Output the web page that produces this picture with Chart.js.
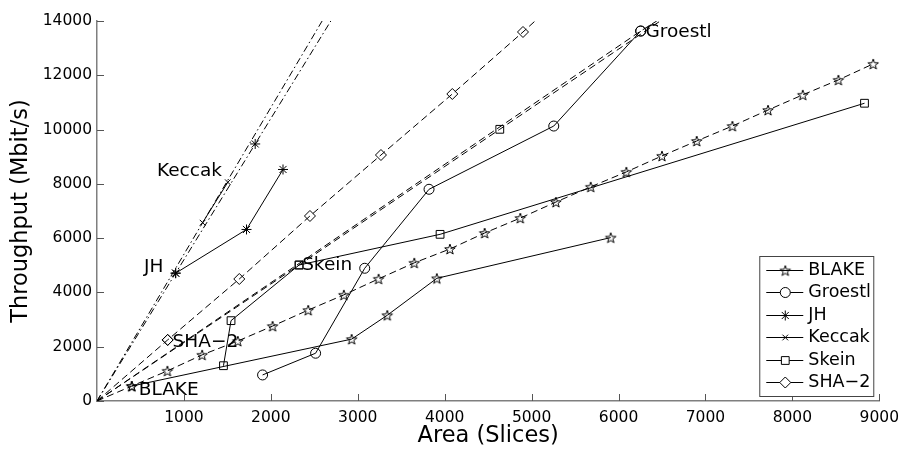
<!DOCTYPE html>
<html>
<head>
<meta charset="utf-8">
<script src="https://cdn.jsdelivr.net/npm/chart.js@4.4.1/dist/chart.umd.min.js"></script>
<style>
  html, body { margin: 0; padding: 0; background: #fff; }
</style>
</head>
<body>
<canvas id="hash" width="907" height="450"></canvas>
<script>
// measured implementations (area in slices, throughput in Mbit/s)
const blakeArea = [400, 2930, 3340, 3910, 5910];
const blakeTput = [550, 2280, 3160, 4520, 6020];
const groestlArea = [1905, 2515, 3080, 3820, 5255, 6255];
const groestlTput = [960, 1760, 4890, 7800, 10130, 13630];
const jhArea = [905, 1720, 2140];
const jhTput = [4710, 6320, 8530];
const keccakArea = [1215, 1505];
const keccakTput = [6570, 8060];
const skeinArea = [1455, 1542, 2325, 3947, 8830];
const skeinTput = [1300, 2960, 5010, 6140, 10970];
const sha2Area = [813];
const sha2Tput = [2250];

// scaling lines through the origin
const blakeScaleArea = [0, 400, 810, 1210, 1620, 2020, 2430, 2840, 3240, 3650, 4060, 4460, 4870, 5280, 5680, 6090, 6500, 6900, 7310, 7720, 8120, 8530, 8930];
const blakeScaleTput = [0, 550, 1110, 1700, 2210, 2760, 3350, 3910, 4500, 5090, 5600, 6190, 6740, 7330, 7890, 8440, 9030, 9580, 10130, 10720, 11280, 11830, 12420];
const groestlScaleArea = [0, 6255, 6440];
const groestlScaleTput = [0, 13630, 14000];
const jhScaleArea = [0, 905, 1820, 2690];
const jhScaleTput = [0, 4710, 9470, 14000];
const keccakScaleArea = [0, 2590];
const keccakScaleTput = [0, 14000];
const skeinScaleArea = [0, 2325, 4634, 6480];
const skeinScaleTput = [0, 5010, 10010, 14000];
const sha2ScaleArea = [0, 813, 1637, 2450, 3267, 4088, 4901, 5040];
const sha2ScaleTput = [0, 2250, 4495, 6816, 9063, 11311, 13595, 14000];

// text labels in the plot
const noteText = ['BLAKE', 'SHA\u22122', 'Skein', 'JH', 'Keccak', 'Groestl'];
const noteArea = [480, 870, 2360, 540, 690, 6310];
const noteTput = [400, 2180, 5010, 4940, 8470, 13600];

const xTicks = [0, 1000, 2000, 3000, 4000, 5000, 6000, 7000, 8000, 9000];
const yTicks = [0, 2000, 4000, 6000, 8000, 10000, 12000, 14000];

function pts(xs, ys) {
  return xs.map((x, i) => ({ x: x, y: ys[i] }));
}

function pentagram(r) {
  const c = document.createElement('canvas');
  const s = Math.ceil(r * 2 + 3);
  c.width = s; c.height = s;
  const g = c.getContext('2d');
  g.translate(s / 2, s / 2 + 0.6);
  g.beginPath();
  for (let i = 0; i < 10; i++) {
    const rr = i % 2 ? r * 0.4 : r;
    const a = -Math.PI / 2 + i * Math.PI / 5;
    g.lineTo(rr * Math.cos(a), rr * Math.sin(a));
  }
  g.closePath();
  g.strokeStyle = '#000';
  g.lineWidth = 1;
  g.stroke();
  return c;
}

const starMark = pentagram(5.5);
const DASH = [7, 4];
const DASHDOT = [7, 3, 1.5, 3];

function solid(label, xs, ys, style, r) {
  return {
    label: label, inLegend: true,
    data: pts(xs, ys),
    borderColor: '#000', borderWidth: 1,
    pointStyle: style, pointRadius: r, pointBorderColor: '#000',
    pointBackgroundColor: 'rgba(0,0,0,0)', pointBorderWidth: 1
  };
}

function scaling(xs, ys, style, r, dash) {
  return {
    label: '', inLegend: false,
    data: pts(xs, ys),
    borderColor: '#000', borderWidth: 1, borderDash: dash,
    pointStyle: style,
    pointRadius: c => (c.raw && c.raw.y > 0 && c.raw.y < 14000) ? r : 0,
    pointBorderColor: '#000', pointBackgroundColor: 'rgba(0,0,0,0)', pointBorderWidth: 1
  };
}

const innerTicks = {
  id: 'innerTicks',
  afterDraw(chart) {
    const ctx = chart.ctx, a = chart.chartArea;
    const xs = chart.scales.x, ys = chart.scales.y;
    ctx.save();
    ctx.strokeStyle = '#555';
    ctx.lineWidth = 1;
    ctx.beginPath();
    xTicks.forEach(v => {
      if (v === 0) return;
      const px = Math.round(xs.getPixelForValue(v)) + 0.5;
      ctx.moveTo(px, a.bottom); ctx.lineTo(px, a.bottom - 7);
    });
    yTicks.forEach(v => {
      const py = Math.round(ys.getPixelForValue(v)) + 0.5;
      ctx.moveTo(a.left, py); ctx.lineTo(a.left + 7, py);
    });
    ctx.stroke();
    ctx.restore();
  }
};

const notes = {
  id: 'notes',
  afterDatasetsDraw(chart) {
    const ctx = chart.ctx;
    ctx.save();
    ctx.fillStyle = '#000';
    ctx.font = '18.5px "DejaVu Sans"';
    ctx.textAlign = 'left';
    ctx.textBaseline = 'middle';
    noteText.forEach((t, i) => {
      ctx.fillText(t, chart.scales.x.getPixelForValue(noteArea[i]), chart.scales.y.getPixelForValue(noteTput[i]));
    });
    ctx.restore();
  }
};

const boxLegend = {
  id: 'boxLegend',
  afterDraw(chart) {
    const ctx = chart.ctx, a = chart.chartArea;
    const items = chart.data.datasets.filter(d => d.inLegend);
    const w = 114, h = 140;
    const right = a.right - 6, bottom = a.bottom - 5;
    const left = right - w, top = bottom - h;
    ctx.save();
    ctx.fillStyle = '#fff';
    ctx.fillRect(left, top, w, h);
    ctx.strokeStyle = '#444';
    ctx.lineWidth = 1;
    ctx.strokeRect(left + 0.5, top + 0.5, w, h);
    ctx.font = '17.5px "DejaVu Sans"';
    ctx.textBaseline = 'middle';
    items.forEach((d, i) => {
      const y = Math.round(top + 14 + i * 22.4) + 0.5;
      ctx.strokeStyle = '#000';
      ctx.beginPath();
      ctx.moveTo(left + 7, y); ctx.lineTo(left + 44, y);
      ctx.stroke();
      ctx.fillStyle = '#fff';
      Chart.helpers.drawPoint(ctx, { pointStyle: d.pointStyle, radius: d.pointRadius, rotation: 0, borderWidth: 1 }, left + 26, y);
      ctx.fillStyle = '#000';
      ctx.fillText(d.label, left + 49, y);
    });
    ctx.restore();
  }
};

Chart.defaults.font.family = '"DejaVu Sans"';
Chart.defaults.color = '#000';

new Chart(document.getElementById('hash').getContext('2d'), {
  type: 'line',
  data: {
    datasets: [
      solid('BLAKE', blakeArea, blakeTput, starMark, 5.5),
      solid('Groestl', groestlArea, groestlTput, 'circle', 5),
      solid('JH', jhArea, jhTput, 'star', 5),
      solid('Keccak', keccakArea, keccakTput, 'crossRot', 4),
      solid('Skein', skeinArea, skeinTput, 'rect', 5.5),
      solid('SHA\u22122', sha2Area, sha2Tput, 'rectRot', 5.5),
      scaling(blakeScaleArea, blakeScaleTput, starMark, 5.5, DASH),
      scaling(groestlScaleArea, groestlScaleTput, 'circle', 5, DASH),
      scaling(jhScaleArea, jhScaleTput, 'star', 5, DASHDOT),
      scaling(keccakScaleArea, keccakScaleTput, 'crossRot', 4, DASHDOT),
      scaling(skeinScaleArea, skeinScaleTput, 'rect', 5.5, DASH),
      scaling(sha2ScaleArea, sha2ScaleTput, 'rectRot', 5.5, DASH)
    ]
  },
  options: {
    responsive: false,
    animation: false,
    devicePixelRatio: 1,
    layout: { padding: { top: 21, right: 24, left: 0, bottom: 0 } },
    plugins: { legend: { display: false }, tooltip: { enabled: false } },
    scales: {
      x: {
        type: 'linear', min: 0, max: 9000,
        afterFit: s => { s.height = 49; },
        afterBuildTicks: s => { s.ticks = xTicks.map(v => ({ value: v })); },
        ticks: { font: { size: 15.5 }, padding: 8, maxRotation: 0, callback: v => v === 0 ? '' : String(v) },
        grid: { display: true, drawOnChartArea: false, drawTicks: false },
        border: { color: '#7f7f7f', width: 1.5 },
        title: { display: true, text: 'Area (Slices)', font: { size: 22.5 }, padding: { top: 0, bottom: 0 } }
      },
      y: {
        type: 'linear', min: 0, max: 14000,
        afterFit: s => { s.width = 97; },
        afterBuildTicks: s => { s.ticks = yTicks.map(v => ({ value: v })); },
        ticks: { font: { size: 15.5 }, padding: 5, callback: v => String(v) },
        grid: { display: true, drawOnChartArea: false, drawTicks: false },
        border: { color: '#7f7f7f', width: 1.5 },
        title: { display: true, text: 'Throughput (Mbit/s)', font: { size: 22.5 }, padding: { top: 8, bottom: 0 } }
      }
    }
  },
  plugins: [innerTicks, notes, boxLegend]
});
</script>
</body>
</html>
